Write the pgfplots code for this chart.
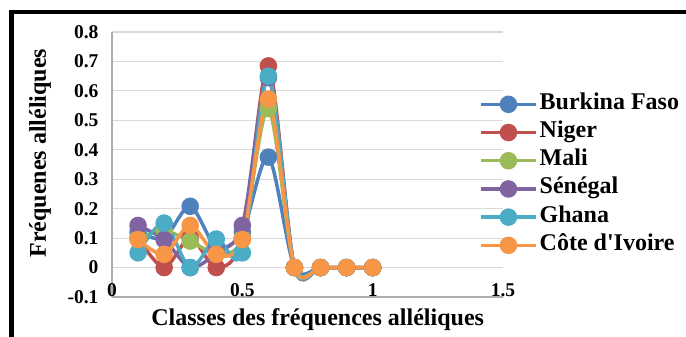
\documentclass[border=0pt]{standalone}
\usepackage{pgfplots}
\pgfplotsset{compat=1.18}
\usepackage{fontspec}
\setmainfont{Liberation Serif}
\definecolor{cBF}{HTML}{4F81BD}
\definecolor{cNI}{HTML}{C0504D}
\definecolor{cML}{HTML}{9BBB59}
\definecolor{cSN}{HTML}{8064A2}
\definecolor{cGH}{HTML}{4BACC6}
\definecolor{cCI}{HTML}{F79646}
\definecolor{gridgray}{HTML}{D9D9D9}
\begin{document}
\begin{tikzpicture}[x=1bp,y=1bp]
\path[use as bounding box] (0,0) rectangle (686,336);
\begin{axis}[
  at={(112bp,39bp)}, anchor=south west,
  width=391bp, height=265bp, scale only axis,
  xmin=0, xmax=1.5, ymin=-0.1, ymax=0.8,
  xtick={0,0.5,1,1.5}, ytick={-0.1,0,0.1,0.2,0.3,0.4,0.5,0.6,0.7,0.8},
  xticklabels={0,0.5,1,1.5},
  yticklabels={-0.1,0,0.1,0.2,0.3,0.4,0.5,0.6,0.7,0.8},
  ymajorgrids, grid style={draw=gridgray, line width=1.2bp},
  axis x line*=bottom, axis y line*=left,
  axis line style={draw=gridgray!80!black, line width=1.2bp, -},
  major tick length=0pt,
  tick label style={font=\fontsize{19.5bp}{21bp}\selectfont\bfseries},
  /pgf/number format/assume math mode=true,
  yticklabel style={xshift=-10bp},
  xticklabel style={anchor=center, yshift=7bp},
  xlabel={Classes des fréquences alléliques},
  ylabel={Fréquenes alléliques},
  label style={font=\fontsize{24bp}{26bp}\selectfont\bfseries},
  xlabel style={at={(axis description cs:0.526,-0.085)}, anchor=center},
  ylabel style={at={(axis description cs:-0.184,0.543)}, anchor=center, rotate=0},
  every axis plot/.append style={line width=3.5bp, smooth, tension=0.5, mark=*, mark size=7bp, mark options={solid}},
  legend cell align=left,
  legend style={at={(axis description cs:0.9386,0.781)}, anchor=north west,
    draw=none, fill=none, inner sep=0pt, row sep=0pt,
    font=\fontsize{24bp}{26bp}\selectfont\bfseries,
    nodes={text height=17bp, text depth=7.2bp, inner sep=2bp},
    /tikz/every even column/.append style={column sep=0bp}},
  legend image code/.code={\draw[#1, mark repeat=2, mark phase=2] plot coordinates {(0bp,0bp) (27.5bp,0bp) (55bp,0bp)};},
]
\addplot[color=cBF, mark options={fill=cBF}] coordinates {(0.1,0.12) (0.2,0.10) (0.3,0.208) (0.4,0.07) (0.5,0.12) (0.6,0.375) (0.7,0) (0.8,0) (0.9,0) (1.0,0)};
\addlegendentry{Burkina Faso}
\addplot[color=cNI, mark options={fill=cNI}] coordinates {(0.1,0.10) (0.2,0) (0.3,0.10) (0.4,0) (0.5,0.10) (0.6,0.685) (0.7,0) (0.8,0) (0.9,0) (1.0,0)};
\addlegendentry{Niger}
\addplot[color=cML, mark options={fill=cML}] coordinates {(0.1,0.10) (0.2,0.125) (0.3,0.09) (0.4,0.05) (0.5,0.10) (0.6,0.54) (0.7,0) (0.8,0) (0.9,0) (1.0,0)};
\addlegendentry{Mali}
\addplot[color=cSN, mark options={fill=cSN}] coordinates {(0.1,0.143) (0.2,0.095) (0.3,0) (0.4,0.05) (0.5,0.143) (0.6,0.645) (0.7,0) (0.8,0) (0.9,0) (1.0,0)};
\addlegendentry{Sénégal}
\addplot[color=cGH, mark options={fill=cGH}] coordinates {(0.1,0.05) (0.2,0.151) (0.3,0) (0.4,0.097) (0.5,0.05) (0.6,0.65) (0.7,0) (0.8,0) (0.9,0) (1.0,0)};
\addlegendentry{Ghana}
\addplot[color=cCI, mark options={fill=cCI}] coordinates {(0.1,0.095) (0.2,0.045) (0.3,0.143) (0.4,0.045) (0.5,0.095) (0.6,0.572) (0.7,0) (0.8,0) (0.9,0) (1.0,0)};
\addlegendentry{Côte d\textquotesingle Ivoire}
\end{axis}
\draw[line width=4bp] (9.7,324) -- (690,324);
\draw[line width=4.5bp] (11.7,326) -- (11.7,-5);
\end{tikzpicture}
\end{document}
